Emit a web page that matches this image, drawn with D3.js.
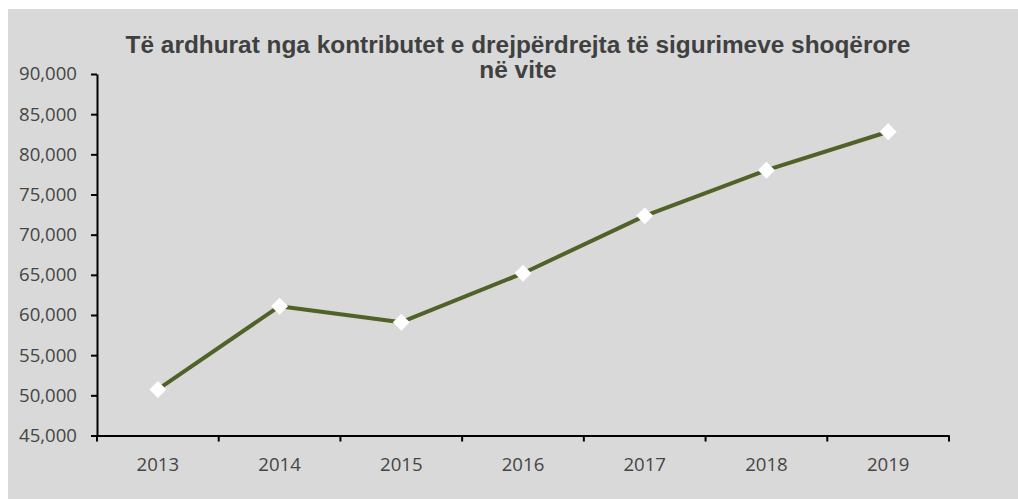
<!DOCTYPE html>
<html>
<head>
<meta charset="utf-8">
<script src="https://cdn.jsdelivr.net/npm/d3@7"></script>
<style>
  body { margin: 0; background: #fff; }
  svg { display: block; }
  .axis path, .axis line { stroke: #000; stroke-width: 2px; }
  .axis text { font-family: "Open Sans", sans-serif; font-size: 18.6px; fill: #454545; }
</style>
</head>
<body>
<div id="chart"></div>
<script>
const years = ['2013', '2014', '2015', '2016', '2017', '2018', '2019'];
const values = [50730, 61100, 59100, 65200, 72340, 78030, 82810];
const yTicks = [45000, 50000, 55000, 60000, 65000, 70000, 75000, 80000, 85000, 90000];
const titleLines = ['Të ardhurat nga kontributet e drejpërdrejta të sigurimeve shoqërore', 'në vite'];

const width = 1018, height = 499;
const svg = d3.select('#chart').append('svg')
    .attr('width', width)
    .attr('height', height);

// chart area background
svg.append('rect')
    .attr('x', 8).attr('y', 9)
    .attr('width', width - 8).attr('height', height - 9)
    .attr('fill', '#d9d9d9');

const x = d3.scaleBand().domain(years).range([97, 949]);
const y = d3.scaleLinear().domain([45000, 90000]).range([435.5, 74]);

svg.append('g')
    .attr('class', 'axis')
    .attr('transform', 'translate(97,0)')
    .call(d3.axisLeft(y)
        .tickValues(yTicks)
        .tickFormat(d3.format(','))
        .tickSize(6)
        .tickSizeOuter(0)
        .tickPadding(14));

// category axis with ticks on the band edges
const xAxis = svg.append('g')
    .attr('class', 'axis')
    .attr('transform', 'translate(0,435.5)')
    .call(d3.axisBottom(x).tickSize(0).tickSizeOuter(0).tickPadding(22));

xAxis.selectAll('.edge')
    .data(d3.range(years.length + 1))
    .enter().append('line')
    .attr('class', 'edge')
    .attr('x1', i => x.range()[0] + i * x.step())
    .attr('x2', i => x.range()[0] + i * x.step())
    .attr('y1', 0).attr('y2', 6);

const line = d3.line()
    .x((d, i) => x(years[i]) + x.bandwidth() / 2)
    .y(d => y(d));

svg.append('path')
    .datum(values)
    .attr('d', line)
    .attr('fill', 'none')
    .attr('stroke', '#4f6228')
    .attr('stroke-width', 4)
    .attr('stroke-linejoin', 'round');

svg.selectAll('.marker')
    .data(values)
    .enter().append('path')
    .attr('class', 'marker')
    .attr('d', d3.symbol(d3.symbolSquare, 144))
    .attr('transform', (d, i) => `translate(${x(years[i]) + x.bandwidth() / 2},${y(d)}) rotate(45)`)
    .attr('fill', '#fff');

svg.append('text')
    .attr('x', 518)
    .attr('y', 53)
    .attr('text-anchor', 'middle')
    .attr('font-family', '"Liberation Sans", Arial, sans-serif')
    .attr('font-weight', 'bold')
    .attr('font-size', 24.4)
    .attr('fill', '#404040')
    .selectAll('tspan')
    .data(titleLines)
    .enter().append('tspan')
    .attr('x', 518)
    .attr('dy', (d, i) => i === 0 ? 0 : 25)
    .text(d => d);
</script>
</body>
</html>
